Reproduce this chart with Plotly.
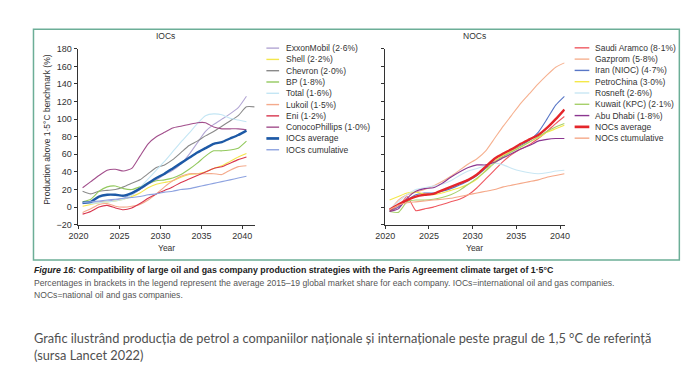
import plotly.graph_objects as go

# ---------------- data ----------------
YEARS = [2020.5, 2021.5, 2022.5, 2023.5, 2024.5, 2025.5, 2026.5, 2027.5, 2028.5, 2029.5,
         2030.5, 2031.5, 2032.5, 2033.5, 2034.5, 2035.5, 2036.5, 2037.5, 2038.5, 2039.5, 2040.5]
YEARS_EXT = [2020.5, 2021.5, 2022.5, 2023.5, 2024.5, 2025.5, 2026.5, 2027.5, 2028.5, 2029.5,
             2030.5, 2031.5, 2032.5, 2033.5, 2034.5, 2035.5, 2036.5, 2037.5, 2038.5, 2039.5, 2040.5, 2041.5]

X_TICKS = [2020, 2025, 2030, 2035, 2040]
Y_TICKS = [-20, 0, 20, 40, 60, 80, 100, 120, 140, 160, 180]

# IOCs
exxon = [4, 5, 6, 7, 8, 10, 14, 20, 26, 31, 37, 42, 49, 60, 73, 86, 94, 100, 106, 113, 126]
shell = [1, 3, 5, 6, 7, 9, 12, 16, 22, 26, 28, 30, 34, 37, 38, 40, 44, 47, 52, 57, 61]
chevron = [18, 15, 18, 19, 20, 23, 27, 31, 38, 45, 48, 54, 62, 70, 75, 81, 86, 92, 98, 104, 114, 114]
bp = [6, 9, 18, 23, 24, 21, 20, 23, 27, 30, 31, 33, 37, 43, 50, 58, 64, 64, 65, 67, 75]
total = [5, 4, 5, 6, 7, 9, 14, 22, 32, 42, 52, 63, 74, 84, 95, 104, 106, 105, 101, 99, 97]
lukoil = [-6, -2, 3, 4, 1, 0, 1, 3, 8, 15, 23, 30, 35, 38, 38, 38, 38, 37, 42, 46, 47]
eni = [-8, -5, 0, 2, -1, -3, -1, 4, 10, 15, 19, 23, 28, 32, 36, 40, 44, 46, 50, 54, 57]
conoco = [22, 29, 36, 42, 43, 41, 44, 58, 72, 80, 85, 90, 92, 94, 96, 96, 91, 89, 89, 89, 88]
ioc_avg = [5, 6, 12, 14, 14, 13, 16, 21, 27, 33, 38, 44, 50, 56, 62, 67, 72, 74, 78, 82, 87]
ioc_cum = [5, 6, 7, 8, 9, 10, 11, 12, 14, 15, 17, 18, 20, 21, 23, 25, 27, 29, 31, 33, 35]

# NOCs
saudi = [-5, 0, 12, -4, -2, 0, 3, 6, 9, 14, 22, 32, 42, 52, 60, 66, 71, 78, 86, 95, 103]
gazprom = [-4, 8, 14, 17, 20, 24, 29, 35, 42, 49, 55, 64, 78, 92, 105, 118, 129, 140, 150, 159, 164]
iran = [-4, 0, 8, 14, 16, 16, 18, 21, 25, 30, 36, 44, 52, 58, 64, 70, 76, 85, 100, 116, 126]
petrochina = [8, 12, 16, 17, 15, 14, 16, 19, 22, 26, 32, 42, 52, 59, 64, 69, 74, 79, 85, 89, 93]
rosneft = [-2, 6, 14, 20, 22, 24, 26, 30, 36, 41, 44, 47, 50, 48, 44, 41, 39, 38, 39, 41, 42]
kuwait = [-5, -6, 6, 8, 8, 9, 11, 14, 19, 26, 33, 41, 50, 57, 63, 68, 74, 80, 86, 91, 95]
abudhabi = [-5, -2, 10, 18, 21, 22, 27, 34, 40, 45, 48, 48, 51, 56, 61, 66, 70, 75, 77, 78, 78]
noc_avg = [-3, 3, 8, 12, 14, 15, 19, 23, 27, 31, 37, 46, 55, 61, 66, 72, 77, 82, 90, 100, 111]
noc_cum = [-3, 2, 5, 6, 7, 8, 9, 10, 12, 14, 16, 18, 20, 23, 25, 27, 29, 31, 34, 36, 38]

IOC_NAMES = ["ExxonMobil (2·6%)", "Shell (2·2%)", "Chevron (2·0%)", "BP (1·8%)", "Total (1·6%)",
             "Lukoil (1·5%)", "Eni (1·2%)", "ConocoPhillips (1·0%)", "IOCs average", "IOCs cumulative"]
NOC_NAMES = ["Saudi Aramco (8·1%)", "Gazprom (5·8%)", "Iran (NIOC) (4·7%)", "PetroChina (3·0%)",
             "Rosneft (2·6%)", "Kuwait (KPC) (2·1%)", "Abu Dhabi (1·8%)", "NOCs average", "NOCs ctumulative"]

ioc_series = [(YEARS, exxon), (YEARS, shell), (YEARS_EXT, chevron), (YEARS, bp), (YEARS, total),
              (YEARS, lukoil), (YEARS, eni), (YEARS, conoco), (YEARS, ioc_avg), (YEARS, ioc_cum)]
noc_series = [saudi, gazprom, iran, petrochina, rosneft, kuwait, abudhabi, noc_avg, noc_cum]

IOC_COLORS = ["#b3a6d4", "#f3e64c", "#8a8a8a", "#93c95e", "#c4e6f4", "#f4aa8c",
              "#d8364e", "#a24f8c", "#1d59a6", "#8ea3e0"]
IOC_WIDTHS = [1.1, 1.1, 1.1, 1.1, 1.1, 1.1, 1.1, 1.1, 2.4, 1.1]
NOC_COLORS = ["#ef5a62", "#f6b190", "#5876c6", "#f4e84a", "#c9e7f4", "#a7d06c",
              "#8b3690", "#e4262b", "#f5a888"]
NOC_WIDTHS = [1.1, 1.1, 1.1, 1.1, 1.1, 1.1, 1.1, 2.4, 1.1]

# ---------------- layout helpers ----------------
W, H = 700, 376
def px(x):
    return x / W
def py(y):
    return 1 - y / H

FONT = "Liberation Sans, Arial, sans-serif"
TXT = "#333333"

fig = go.Figure()

for (xs, ys), name, col, w in zip(ioc_series, IOC_NAMES, IOC_COLORS, IOC_WIDTHS):
    fig.add_trace(go.Scatter(x=xs, y=ys, mode="lines", name=name, showlegend=False,
                             line=dict(color=col, width=w, shape="spline", smoothing=0.5),
                             xaxis="x", yaxis="y"))
for ys, name, col, w in zip(noc_series, NOC_NAMES, NOC_COLORS, NOC_WIDTHS):
    fig.add_trace(go.Scatter(x=YEARS, y=ys, mode="lines", name=name, showlegend=False,
                             line=dict(color=col, width=w, shape="spline", smoothing=0.5),
                             xaxis="x2", yaxis="y2"))

axis_common = dict(showgrid=False, zeroline=False, showline=True, linecolor="#333333",
                   linewidth=1, ticks="outside", ticklen=3, tickcolor="#333333",
                   tickfont=dict(family=FONT, size=9, color=TXT))

fig.update_layout(
    width=W, height=H, autosize=False,
    margin=dict(l=0, r=0, t=0, b=0),
    paper_bgcolor="white", plot_bgcolor="white",
    showlegend=False,
    xaxis=dict(domain=[px(69), px(250)], range=[2019.88, 2041.5], tickvals=X_TICKS,
               anchor="y", **axis_common),
    yaxis=dict(domain=[py(225.7), py(45)], range=[-20, 180], tickvals=Y_TICKS,
               anchor="x", **axis_common),
    xaxis2=dict(domain=[px(383), px(567)], range=[2019.95, 2040.55], tickvals=X_TICKS,
                anchor="y2", **axis_common),
    yaxis2=dict(domain=[py(225.7), py(45)], range=[-20, 180], tickvals=Y_TICKS,
                showticklabels=False, anchor="x2", **axis_common),
)

shapes = [dict(type="rect", xref="paper", yref="paper", x0=px(24), x1=px(684),
               y0=py(262), y1=py(25), line=dict(color="#6cae97", width=1.5), layer="below")]
annotations = []

def ann(x, y, text, size=8.5, color=TXT, xanchor="center", family=FONT, **kw):
    annotations.append(dict(xref="paper", yref="paper", x=px(x), y=py(y), text=text,
                            showarrow=False, xanchor=xanchor, yanchor="middle",
                            font=dict(family=family, size=size, color=color), **kw))

# panel titles and axis titles
ann(159, 32, "IOCs", 8.5)
ann(475, 32, "NOCs", 8.5)
ann(160, 250, "Year", 8.5)
ann(475, 250, "Year", 8.5)
ann(37, 128, "Production above 1·5°C benchmark (%)", 8.5, textangle=-90)

# legends
for i, (name, col, w) in enumerate(zip(IOC_NAMES, IOC_COLORS, IOC_WIDTHS)):
    yy = 44.3 + i * 11.6
    shapes.append(dict(type="line", xref="paper", yref="paper", x0=px(262), x1=px(275),
                       y0=py(yy), y1=py(yy), line=dict(color=col, width=w + 0.3)))
    ann(280, yy, name, 8.5, xanchor="left")
for i, (name, col, w) in enumerate(zip(NOC_NAMES, NOC_COLORS, NOC_WIDTHS)):
    yy = 44.0 + i * 11.6
    shapes.append(dict(type="line", xref="paper", yref="paper", x0=px(577), x1=px(592),
                       y0=py(yy), y1=py(yy), line=dict(color=col, width=w + 0.3)))
    ann(596, yy, name, 8.5, xanchor="left")

# captions
ann(22, 272, "<b><i>Figure 16:</i> Compatibility of large oil and gas company production strategies "
             "with the Paris Agreement climate target of 1·5°C</b>", 8.8, color="#222222", xanchor="left")
ann(22, 286, "Percentages in brackets in the legend represent the average 2015–19 global market share "
             "for each company. IOCs=international oil and gas companies.", 8.6, color="#555555", xanchor="left")
ann(22, 298, "NOCs=national oil and gas companies.", 8.6, color="#555555", xanchor="left")
ann(22, 351, "Grafic ilustrând producția de petrol a companiilor naționale și internaționale peste "
             "pragul de 1,5 °C de referință<br>(sursa Lancet 2022)", 12.8, color="#505050",
    xanchor="left", align="left", family="Lato, Open Sans, sans-serif")

fig.update_layout(shapes=shapes, annotations=annotations)

fig.write_html("out.html", config={"displayModeBar": False},
               post_script="document.body.style.margin='0';")
